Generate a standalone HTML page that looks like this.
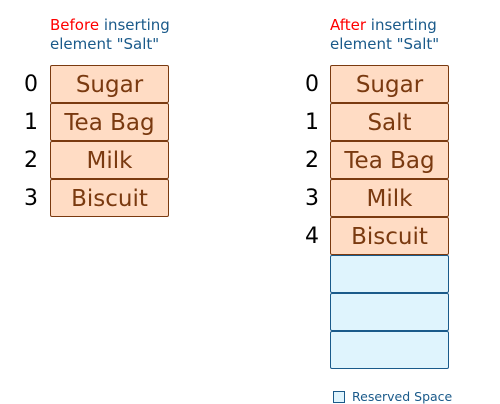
<!DOCTYPE html>
<html><head><style>
body{margin:0;width:500px;height:404px;background:#fff;position:relative;font-family:"DejaVu Sans",Verdana,sans-serif;overflow:hidden}
.t{position:absolute;font-size:15px;line-height:19px;color:#1a5a8a;white-space:nowrap}
.t span{color:#ff0000}
.b{position:absolute;width:117px;height:36px;border:1px solid #7a3a10;border-radius:2px;background:#ffdcc4;color:#7a3a10;font-size:23px;text-align:center;line-height:39px;white-space:nowrap}
.r{background:#dff4fd;border-color:#1a5a8a}
.n{position:absolute;font-size:22px;color:#000;width:20px;text-align:center;line-height:40px}
</style></head><body>
<div class="t" style="left:50px;top:16px">
<span>Before</span> inserting<br>element "Salt"</div>
<div class="t" style="left:330px;top:16px">
<span>After</span> inserting<br>element "Salt"</div>

<div class="n" style="left:21px;top:65px">0</div>
<div class="n" style="left:21px;top:103px">1</div>
<div class="n" style="left:21px;top:141px">2</div>
<div class="n" style="left:21px;top:179px">3</div>
<div class="b" style="left:50px;top:65px">Sugar</div>
<div class="b" style="left:50px;top:103px">Tea Bag</div>
<div class="b" style="left:50px;top:141px">Milk</div>
<div class="b" style="left:50px;top:179px">Biscuit</div>

<div class="n" style="left:302px;top:65px">0</div>
<div class="n" style="left:302px;top:103px">1</div>
<div class="n" style="left:302px;top:141px">2</div>
<div class="n" style="left:302px;top:179px">3</div>
<div class="n" style="left:302px;top:217px">4</div>
<div class="b" style="left:330px;top:65px">Sugar</div>
<div class="b" style="left:330px;top:103px">Salt</div>
<div class="b" style="left:330px;top:141px">Tea Bag</div>
<div class="b" style="left:330px;top:179px">Milk</div>
<div class="b" style="left:330px;top:217px">Biscuit</div>
<div class="b r" style="left:330px;top:255px"></div>
<div class="b r" style="left:330px;top:293px"></div>
<div class="b r" style="left:330px;top:331px"></div>

<div style="position:absolute;left:333px;top:391px;width:10px;height:10px;border:1px solid #1a5a8a;background:#dff4fd"></div>
<div style="position:absolute;left:352px;top:389px;font-size:12.5px;line-height:15px;color:#1a5a8a">Reserved Space</div>
</body></html>
